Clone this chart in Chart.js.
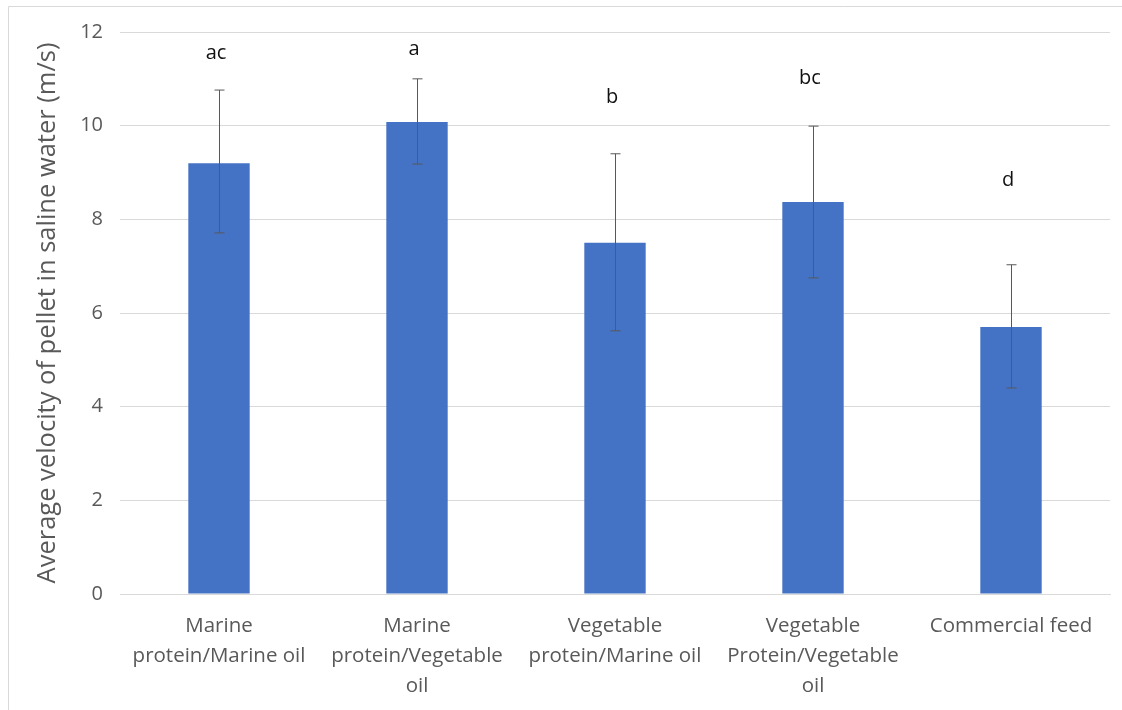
<!DOCTYPE html>
<html>
<head>
<meta charset="utf-8">
<script src="https://cdn.jsdelivr.net/npm/chart.js@4"></script>
<style>
  body { margin: 0; background: #fff; }
  #wrap { position: relative; width: 1122px; height: 710px; }
</style>
</head>
<body>
<div id="wrap"><canvas id="myChart"></canvas></div>
<script>
const categories = [
  ["Marine", "protein/Marine oil"],
  ["Marine", "protein/Vegetable", "oil"],
  ["Vegetable", "protein/Marine oil"],
  ["Vegetable", "Protein/Vegetable", "oil"],
  "Commercial feed"
]
const velocity = [9.2, 10.08, 7.5, 8.37, 5.7]
const errLow = [7.71, 9.18, 5.62, 6.75, 4.4]
const errHigh = [10.76, 11.0, 9.4, 9.99, 7.03]
const letters = ["ac", "a", "b", "bc", "d"]
const letterLevel = [11.55, 11.62, 10.61, 11.02, 8.84]
const yTicks = [0, 2, 4, 6, 8, 10, 12]

const fontFamily = "'Open Sans', 'Noto Sans', sans-serif"

// error bars, significance letters and the frame line
const extras = {
  id: 'extras',
  afterDatasetsDraw(chart) {
    const ctx = chart.ctx
    const x = chart.scales.x
    const y = chart.scales.y
    ctx.save()
    ctx.strokeStyle = "#595959"
    ctx.lineWidth = 1
    for (let i = 0; i < velocity.length; i++) {
      const cx = Math.round(x.getPixelForValue(i)) + 0.5
      const top = y.getPixelForValue(errHigh[i])
      const bot = y.getPixelForValue(errLow[i])
      ctx.beginPath()
      ctx.moveTo(cx, top); ctx.lineTo(cx, bot)
      ctx.moveTo(cx - 5, top); ctx.lineTo(cx + 5, top)
      ctx.moveTo(cx - 5, bot); ctx.lineTo(cx + 5, bot)
      ctx.stroke()
    }
    ctx.fillStyle = "#111"
    ctx.font = `20px ${fontFamily}`
    ctx.textAlign = "center"
    ctx.textBaseline = "middle"
    for (let i = 0; i < letters.length; i++) {
      ctx.fillText(letters[i], x.getPixelForValue(i) - 3, y.getPixelForValue(letterLevel[i]))
    }
    ctx.strokeStyle = "#d9d9d9"
    ctx.beginPath()
    ctx.moveTo(8.5, 710); ctx.lineTo(8.5, 6.5); ctx.lineTo(1122, 6.5)
    ctx.stroke()
    ctx.restore()
  }
}

const ctx = document.getElementById('myChart')
new Chart(ctx, {
  type: 'bar',
  data: {
    labels: categories,
    datasets: [{
      data: velocity,
      backgroundColor: "#4472c4",
      categoryPercentage: 1,
      barPercentage: 0.31
    }]
  },
  options: {
    responsive: true,
    maintainAspectRatio: false,
    animation: false,
    layout: { padding: { left: 10, right: 12, top: 32, bottom: 6 } },
    plugins: {
      legend: { display: false },
      tooltip: { enabled: false }
    },
    scales: {
      x: {
        grid: { display: false, drawTicks: false },
        border: { display: true, color: "#d9d9d9" },
        ticks: {
          color: "#595959",
          font: { family: fontFamily, size: 20.5, lineHeight: 1.46 },
          padding: 17,
          maxRotation: 0,
          autoSkip: false
        },
        afterFit(scale) { scale.height = 110 }
      },
      y: {
        min: 0,
        max: 12,
        afterBuildTicks(scale) { scale.ticks = yTicks.map(v => ({ value: v })) },
        grid: { color: "#d9d9d9", drawTicks: false },
        border: { display: false },
        ticks: {
          color: "#595959",
          font: { family: fontFamily, size: 20 },
          padding: 17
        },
        title: {
          display: true,
          text: "Average velocity of pellet in saline water (m/s)",
          color: "#595959",
          font: { family: fontFamily, size: 25.5, lineHeight: 1.2 },
          padding: { top: 22, bottom: 0 }
        },
        afterFit(scale) { scale.width = 110 }
      }
    }
  },
  plugins: [extras]
})
</script>
</body>
</html>
